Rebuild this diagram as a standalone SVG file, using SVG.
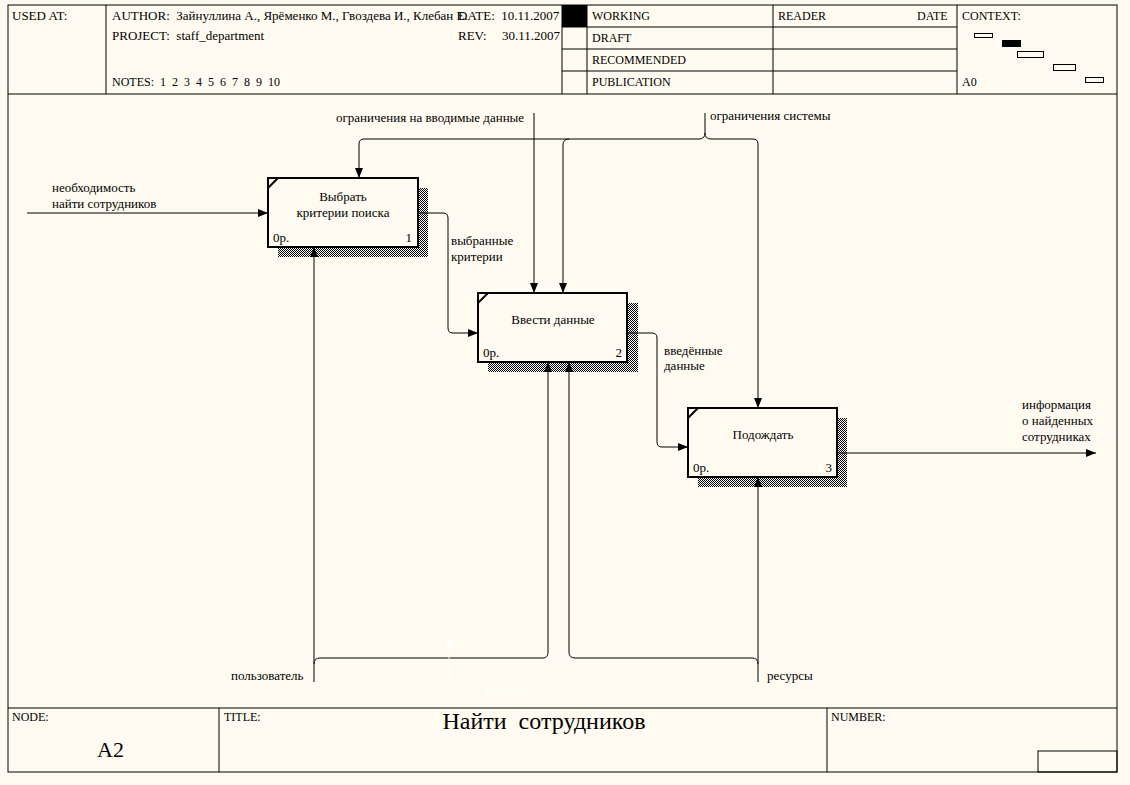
<svg xmlns="http://www.w3.org/2000/svg" width="1130" height="785" viewBox="0 0 1130 785">
<style>
text{font-family:"Liberation Serif","Times New Roman",serif;font-size:13px;fill:#000}
.hd{font-size:12px}
.small{font-size:12px}
.frame{fill:none;stroke:#000;stroke-width:1}
.box{fill:#fffbf0;stroke:#000;stroke-width:2}
.conn{fill:none;stroke:#000;stroke-width:1}
.arr{marker-end:url(#ah)}
.mid{text-anchor:middle}
.end{text-anchor:end}
</style>
<defs>
<pattern id="hatch" width="2" height="2" patternUnits="userSpaceOnUse">
<rect width="2" height="2" fill="#fff"/>
<rect width="1" height="1" fill="#000"/>
<rect x="1" y="1" width="1" height="1" fill="#000"/>
</pattern>
<marker id="ah" markerUnits="userSpaceOnUse" markerWidth="10" markerHeight="8" refX="10" refY="4" orient="auto">
<path d="M0,0 L10,4 L0,8 z" fill="#000"/>
</marker>
<marker id="ahw" markerUnits="userSpaceOnUse" markerWidth="10" markerHeight="8" refX="10" refY="4" orient="auto">
<path d="M0,0 L10,4 L0,8 z" fill="#fff"/>
</marker>
</defs>
<rect width="1130" height="785" fill="#fffbf0"/>

<g id="frame">
<rect class="frame" x="8" y="5" width="1109" height="767"/>
<line class="frame" x1="8" y1="94" x2="1117" y2="94"/>
<line class="frame" x1="106" y1="5" x2="106" y2="94"/>
<line class="frame" x1="562" y1="5" x2="562" y2="94"/>
<line class="frame" x1="587" y1="5" x2="587" y2="94"/>
<line class="frame" x1="773" y1="5" x2="773" y2="94"/>
<line class="frame" x1="957" y1="5" x2="957" y2="94"/>
<line class="frame" x1="562" y1="27" x2="957" y2="27"/>
<line class="frame" x1="562" y1="49" x2="957" y2="49"/>
<line class="frame" x1="562" y1="71" x2="957" y2="71"/>
<rect x="562" y="5" width="25" height="22" fill="#000"/>
<text x="12" y="20">USED AT:</text>
<text x="112" y="20" xml:space="preserve">AUTHOR:  Зайнуллина А., Ярёменко М., Гвоздева И., Клебан Е.</text>
<text x="458" y="20" xml:space="preserve">DATE:  10.11.2007</text>
<text x="112" y="40" xml:space="preserve">PROJECT:  staff_department</text>
<text x="458" y="40">REV:</text>
<text x="502" y="40">30.11.2007</text>
<text class="hd" x="112" y="86" xml:space="preserve">NOTES:  1  2  3  4  5  6  7  8  9  10</text>
<text class="hd" x="592" y="20">WORKING</text>
<text class="hd" x="592" y="42">DRAFT</text>
<text class="hd" x="592" y="64">RECOMMENDED</text>
<text class="hd" x="592" y="86">PUBLICATION</text>
<text class="hd" x="778" y="20">READER</text>
<text class="hd" x="917" y="20">DATE</text>
<text class="hd" x="962" y="20">CONTEXT:</text>
<text class="hd" x="962" y="86">A0</text>
<rect class="frame" x="974.5" y="33.5" width="18" height="4"/>
<rect x="1002" y="40" width="19" height="7" fill="#000"/>
<rect class="frame" x="1017.5" y="51.5" width="26" height="6"/>
<rect class="frame" x="1053.5" y="64.5" width="22" height="6"/>
<rect class="frame" x="1085.5" y="77.5" width="18" height="5"/>
<line class="frame" x1="8" y1="708" x2="1117" y2="708"/>
<line class="frame" x1="219" y1="708" x2="219" y2="772"/>
<line class="frame" x1="827" y1="708" x2="827" y2="772"/>
<rect class="frame" x="1038" y="751" width="79" height="21"/>
<text class="small" x="12" y="721">NODE:</text>
<text x="97" y="757" style="font-size:22px">A2</text>
<text class="small" x="224" y="721">TITLE:</text>
<text x="544" y="729" class="mid" style="font-size:24px" xml:space="preserve">Найти  сотрудников</text>
<text class="small" x="831" y="721">NUMBER:</text>
</g>

<g id="node1">
<rect x="278" y="188" width="150" height="69" fill="url(#hatch)"/>
<rect class="box" x="268" y="178" width="150" height="69"/>
<line x1="268" y1="188" x2="278" y2="178" stroke="#000" stroke-width="2"/>
<text x="343" y="201" class="mid">Выбрать</text>
<text x="343" y="217" class="mid">критерии поиска</text>
<text x="273" y="242">0р.</text>
<text x="412" y="242" class="end">1</text>
</g>

<g id="node2">
<rect x="488" y="303" width="150" height="69" fill="url(#hatch)"/>
<rect class="box" x="478" y="293" width="149" height="69"/>
<line x1="478" y1="303" x2="488" y2="293" stroke="#000" stroke-width="2"/>
<text x="553" y="324" class="mid">Ввести данные</text>
<text x="483" y="357">0р.</text>
<text x="622" y="357" class="end">2</text>
</g>

<g id="node3">
<rect x="698" y="418" width="149" height="69" fill="url(#hatch)"/>
<rect class="box" x="688" y="408" width="149" height="69"/>
<line x1="688" y1="418" x2="698" y2="408" stroke="#000" stroke-width="2"/>
<text x="763" y="439" class="mid">Подождать</text>
<text x="693" y="472">0р.</text>
<text x="832" y="472" class="end">3</text>
</g>

<g id="connectors">
<path class="conn arr" d="M27,213 H268"/>
<path class="conn arr" d="M418,213 H443 Q448,213 448,218 V328 Q448,333 453,333 H478"/>
<path class="conn arr" d="M627,333 H652 Q657,333 657,338 V442 Q657,447 662,447 H688"/>
<path class="conn arr" d="M837,453 H1096"/>
<path class="conn arr" d="M534,113 V293"/>
<path class="conn arr" d="M705,113 V133 Q705,139 699,139 H364 Q359,139 359,144 V178"/>
<path class="conn arr" d="M705,133 Q705,139 711,139 H753 Q758,139 758,144 V408"/>
<path class="conn arr" d="M569,139 Q563,139 563,145 V293"/>
<path class="conn arr" d="M314,682 V247"/>
<path class="conn arr" d="M314,664 Q314,658 320,658 H543 Q548,658 548,652 V362"/>
<path class="conn arr" d="M758,682 V477"/>
<path class="conn arr" d="M758,664 Q758,658 752,658 H575 Q569,658 569,652 V362"/>
<path d="M449,684 V637" fill="none" stroke="#fff" stroke-width="1" marker-end="url(#ahw)"/>
<text x="52" y="192">необходимость</text>
<text x="52" y="208">найти сотрудников</text>
<text x="451" y="245">выбранные</text>
<text x="451" y="261">критерии</text>
<text x="664" y="355">введённые</text>
<text x="664" y="370">данные</text>
<text x="1022" y="409">информация</text>
<text x="1022" y="425">о найденных</text>
<text x="1022" y="441">сотрудниках</text>
<text x="336" y="122">ограничения на вводимые данные</text>
<text x="710" y="120">ограничения системы</text>
<text x="231" y="680">пользователь</text>
<text x="767" y="680">ресурсы</text>
<text x="486" y="695" style="fill:#fff">ресурсы</text>
</g>
</svg>
